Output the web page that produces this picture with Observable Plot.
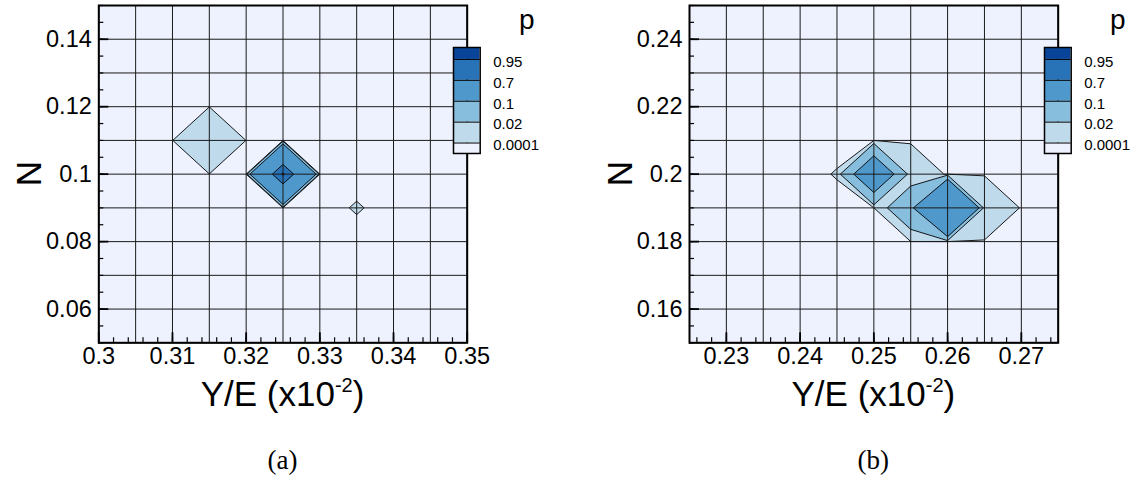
<!DOCTYPE html>
<html>
<head>
<meta charset="utf-8">
<script src="https://cdn.jsdelivr.net/npm/d3@7"></script>
<script src="https://cdn.jsdelivr.net/npm/@observablehq/plot@0.6"></script>
<style>
  body { margin: 0; background: #fff; }
  #wrap { position: relative; width: 1141px; height: 481px; overflow: hidden;
          font-family: "Liberation Sans", Arial, Helvetica, sans-serif; }
  #wrap svg { position: absolute; overflow: visible; }
</style>
</head>
<body>
<div id="wrap"></div>
<script>
// Contour levels of p and the colour of each band between them
const levels = [0.0001, 0.02, 0.1, 0.7, 0.95];
const levelLabels = ["0.0001", "0.02", "0.1", "0.7", "0.95"];
const bandColors = ["#eef2fe", "#bfdaeb", "#88bedd", "#4f98cb", "#2873b7", "#08459a"];

// Panel (a): grid nodes and the nodes that carry probability
const xNodesA = [0.3, 0.305, 0.31, 0.315, 0.32, 0.325, 0.33, 0.335, 0.34, 0.345, 0.35];
const yNodesA = [0.05, 0.06, 0.07, 0.08, 0.09, 0.1, 0.11, 0.12, 0.13, 0.14, 0.15];
const peakXA = [0.315, 0.325, 0.335];
const peakYA = [0.11, 0.1, 0.09];
const peakPA = [0.014, 0.985, 0.000125];
const xLabelsA = [0.3, 0.31, 0.32, 0.33, 0.34, 0.35];
const yLabelsA = [0.06, 0.08, 0.1, 0.12, 0.14];

// Panel (b)
const xNodesB = [0.225, 0.23, 0.235, 0.24, 0.245, 0.25, 0.255, 0.26, 0.265, 0.27, 0.275];
const yNodesB = [0.15, 0.16, 0.17, 0.18, 0.19, 0.2, 0.21, 0.22, 0.23, 0.24, 0.25];
const peakXB = [0.245, 0.25, 0.255, 0.255, 0.26, 0.265];
const peakYB = [0.2, 0.2, 0.2, 0.19, 0.19, 0.19];
const peakPB = [0.00012, 0.22, 0.001, 0.055, 0.68, 0.002];
const xLabelsB = [0.23, 0.24, 0.25, 0.26, 0.27];
const yLabelsB = [0.16, 0.18, 0.2, 0.22, 0.24];

const fmt = d => String(+d.toFixed(4));
const FONT = '"Liberation Sans", Arial, Helvetica, sans-serif';

// Dense w×h grid of p, zero except at the listed nodes
function buildGrid(xs, ys, px, py, pv) {
  const w = xs.length, h = ys.length;
  const dx = xs[1] - xs[0], dy = ys[1] - ys[0];
  const values = new Array(w * h).fill(0);
  px.forEach((x, k) => {
    const i = Math.round((x - xs[0]) / dx);
    const j = Math.round((py[k] - ys[0]) / dy);
    values[j * w + i] = pv[k];
  });
  return {values, w, h, dx, dy};
}

function stepTicks(lo, hi, step) {
  const out = [];
  for (let k = Math.ceil(lo / step - 1e-9); k * step <= hi + 1e-9; k++) out.push(+(k * step).toFixed(5));
  return out;
}

function panel({left, width, marginLeft, marginRight, xs, ys, px, py, pv, xLabels, yLabels, caption}) {
  const height = 481, marginTop = 5, marginBottom = 481 - 342.3;
  const g = buildGrid(xs, ys, px, py, pv);
  const x0 = xs[0], x1 = xs[xs.length - 1], y0 = ys[0], y1 = ys[ys.length - 1];
  const minorX = stepTicks(x0, x1, 0.002);
  const minorY = stepTicks(y0, y1, 0.005);

  const svg = Plot.plot({
    width, height, marginLeft, marginRight, marginTop, marginBottom,
    x: {domain: [x0, x1]},
    y: {domain: [y0, y1]},
    color: {type: "threshold", domain: levels.slice(1), range: bandColors.slice(1)},
    style: {fontFamily: FONT, color: "#000", background: "transparent", overflow: "visible"},
    marks: [
      Plot.frame({fill: bandColors[0], stroke: null}),
      Plot.contour(g.values, {
        width: g.w, height: g.h,
        x1: x0 - g.dx / 2, x2: x1 + g.dx / 2, y1: y0 - g.dy / 2, y2: y1 + g.dy / 2,
        thresholds: levels, fill: Plot.identity, stroke: "#000", strokeWidth: 0.9, clip: true
      }),
      Plot.ruleX(xs, {stroke: "#1a1a1a", strokeWidth: 1}),
      Plot.ruleY(ys, {stroke: "#1a1a1a", strokeWidth: 1}),
      Plot.axisX(minorX, {tickSize: -5, tickFormat: () => "", label: null, strokeWidth: 1.2}),
      Plot.axisX(xLabels, {tickSize: -10, tickFormat: () => "", label: null, strokeWidth: 1.8}),
      Plot.axisX(xLabels, {tickSize: 0, tickPadding: 5, tickFormat: fmt, label: null, fontSize: 23.5}),
      Plot.axisY(minorY, {tickSize: -5, tickFormat: () => "", label: null, strokeWidth: 1.2}),
      Plot.axisY(yLabels, {tickSize: -10, tickFormat: () => "", label: null, strokeWidth: 1.8}),
      Plot.axisY(yLabels, {tickSize: 0, tickPadding: 7, tickFormat: fmt, label: null, fontSize: 23.5}),
      Plot.frame({stroke: "#000", strokeWidth: 2})
    ]
  });
  svg.style.left = left + "px";
  svg.style.top = "0px";

  const frameL = marginLeft, frameR = width - marginRight;
  const cx = (frameL + frameR) / 2, cy = (marginTop + 342.3) / 2;
  const s = d3.select(svg);
  // axis titles
  s.append("text")
    .attr("transform", `translate(${frameL - 57},${cy}) rotate(-90)`)
    .attr("text-anchor", "middle").attr("font-size", 35).attr("font-family", FONT)
    .text("N");
  const t = s.append("text")
    .attr("x", cx).attr("y", 406).attr("text-anchor", "middle")
    .attr("font-size", 35).attr("font-family", FONT);
  t.append("tspan").text("Y/E (x10");
  t.append("tspan").attr("font-size", 20).attr("dy", -14).text("-2");
  t.append("tspan").attr("dy", 14).text(")");
  // legend title
  s.append("text")
    .attr("x", frameR + 60).attr("y", 29).attr("text-anchor", "middle")
    .attr("font-size", 28).attr("font-family", FONT).text("p");
  // panel caption
  s.append("text")
    .attr("x", cx).attr("y", 469).attr("text-anchor", "middle")
    .attr("font-size", 27).attr("font-family", '"Liberation Serif", "Times New Roman", serif')
    .text(caption);
  document.getElementById("wrap").appendChild(svg);

  // colour legend box, placed over the upper right of the frame
  const boxW = 26.7, boxH = 106;
  const bands = [0, 1, 2, 3, 4, 5];
  const idx = [0, 1, 2, 3, 4];
  const leg = Plot.plot({
    width: 1 + boxW + 80, height: 1 + boxH + 8,
    marginLeft: 1, marginTop: 1, marginRight: 80, marginBottom: 8,
    x: {domain: [0, 1], axis: null},
    y: {domain: [-0.5, 4.57], axis: null},
    style: {fontFamily: FONT, color: "#000", background: "transparent", overflow: "visible"},
    marks: [
      Plot.rect(bands, {x1: 0, x2: 1, y1: i => i - 1, y2: i => i, fill: i => bandColors[i], clip: true}),
      Plot.ruleY(idx, {x1: 0, x2: 1, stroke: "#000", strokeWidth: 1}),
      Plot.text(idx, {x: 1, y: i => i, text: i => levelLabels[i], dx: 13, dy: 2.5,
                      textAnchor: "start", fontSize: 15, fill: "#000"}),
      Plot.frame({stroke: "#000", strokeWidth: 1.5})
    ]
  });
  leg.style.left = (left + frameR - 13.4 - 1) + "px";
  leg.style.top = (47.3 - 1) + "px";
  document.getElementById("wrap").appendChild(leg);
}

panel({left: 0, width: 570, marginLeft: 98.3, marginRight: 570 - 466.7,
       xs: xNodesA, ys: yNodesA, px: peakXA, py: peakYA, pv: peakPA,
       xLabels: xLabelsA, yLabels: yLabelsA, caption: "(a)"});
panel({left: 570, width: 571, marginLeft: 119, marginRight: 571 - 487.7,
       xs: xNodesB, ys: yNodesB, px: peakXB, py: peakYB, pv: peakPB,
       xLabels: xLabelsB, yLabels: yLabelsB, caption: "(b)"});
</script>
</body>
</html>
